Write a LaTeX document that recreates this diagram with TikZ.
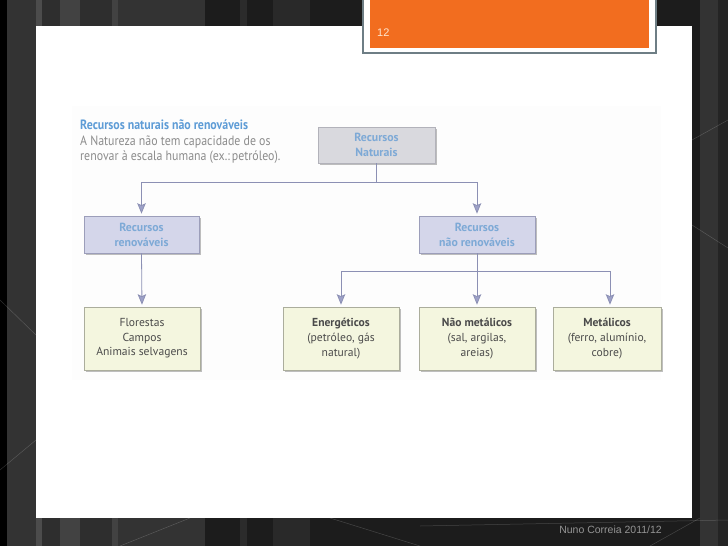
\documentclass[tikz,border=0pt]{standalone}
\usepackage{fontspec}
\setmainfont{PT Sans}
\newfontfamily\libsans{Liberation Sans}
\usetikzlibrary{arrows.meta,shadows}
\definecolor{bgdark}{HTML}{1C1C1C}
\definecolor{orangetab}{HTML}{F26D1F}
\definecolor{tabborder}{HTML}{6E7E85}
\definecolor{titleblue}{HTML}{5E9CD6}
\definecolor{boxblue}{HTML}{7DA9D6}
\definecolor{greytext}{HTML}{8C8C8C}
\definecolor{darktext}{HTML}{4A4A4A}
\definecolor{natfill}{HTML}{D9D9DE}
\definecolor{natdraw}{HTML}{B2B2BA}
\definecolor{lavfill}{HTML}{D4D6EA}
\definecolor{lavdraw}{HTML}{9C9EBA}
\definecolor{yelfill}{HTML}{F4F6DF}
\definecolor{yeldraw}{HTML}{ABAD9C}
\definecolor{linec}{HTML}{8C90B4}
\definecolor{tipc}{HTML}{9DA1C8}
\begin{document}
\begin{tikzpicture}[x=1pt,y=-1pt,
  shad/.style={drop shadow={shadow xshift=1.5pt,shadow yshift=-2pt,opacity=0.25,fill=black}},
  natbox/.style={rectangle,draw=natdraw,fill=natfill,line width=0.6pt,shad,align=center,
     font=\fontsize{11.8}{15}\selectfont\bfseries,text=boxblue,inner sep=0pt},
  lavbox/.style={rectangle,draw=lavdraw,fill=lavfill,line width=0.6pt,shad,align=center,
     font=\fontsize{11.8}{15}\selectfont\bfseries,text=boxblue,inner sep=0pt},
  yelbox/.style={rectangle,draw=yeldraw,fill=yelfill,line width=0.6pt,shad,align=center,
     font=\fontsize{11.6}{14.6}\selectfont,text=darktext,inner sep=0pt,
     minimum width=116pt,minimum height=63pt},
  conn/.style={draw=linec,line width=0.8pt},
  arr/.style={conn,-{Stealth[length=10.5pt,width=8.5pt,inset=2pt,fill=tipc,color=linec]},shorten >=2pt}
]
\useasboundingbox (0,0) rectangle (728,546);
% dark background with stripes
\fill[bgdark] (0,0) rectangle (728,546);
\fill[black] (0,0) rectangle (7,546);
\fill[black!80] (7,0) rectangle (25,546);
\fill[black!80!white] (25,0) rectangle (36,546);
\fill[black!70!white] (36,0) rectangle (42,546);
\fill[black!82!white] (42,0) rectangle (60,546);
\fill[black!74!white] (60,0) rectangle (80,546);
\fill[black!82!white] (80,0) rectangle (112,546);
\fill[black!74!white] (112,0) rectangle (118,546);
\fill[black!80!white] (118,0) rectangle (205,546);
\fill[black!83!white] (240,0) rectangle (247,546);
\fill[black!84!white] (273,0) rectangle (310,546);
\fill[black!80!white] (700,0) rectangle (718,546);
\fill[black!86!white] (718,0) rectangle (728,546);
% faint diagonal lines
\begin{scope}[draw=white,opacity=0.18,line width=0.5pt]
\draw (0,300) -- (36,335);
\draw (0,470) -- (36,440);
\draw (692,140) -- (728,120);
\draw (692,225) -- (728,248);
\draw (120,546) -- (190,518);
\draw (330,518) -- (420,546);
\draw (420,526) -- (728,520);
\draw (650,546) -- (700,518);
\end{scope}
% white slide
\fill[white] (36,26) rectangle (692,518);
% scanned area
\fill[black!0.6] (72,106) rectangle (661,380);
% orange tab
\fill[tabborder] (362,-1) rectangle (657,54);
\fill[white] (364,-1) rectangle (655,52);
\fill[orangetab] (370,-1) rectangle (649,48);
\node[anchor=west,text={rgb,255:red,255;green,228;blue,205},font=\libsans\fontsize{11}{12}\selectfont,inner sep=0pt] (num) at (377,33) {12};
% footer
\node[anchor=east,text=black!42,font=\libsans\fontsize{10.5}{12}\selectfont,inner sep=0pt] (foot) at (662,530) {Nuno Correia 2011/12};
% top-left text
\node[anchor=north west,inner sep=0pt,align=left,font=\fontsize{13.5}{15.5}\selectfont] (intro) at (80,120) {%
  \scalebox{0.88}[1]{\bfseries\color{titleblue}Recursos naturais não renováveis}\\
  \scalebox{0.88}[1]{\color{greytext}A Natureza não tem capacidade de os}\\
  \scalebox{0.88}[1]{\color{greytext}renovar à escala humana (ex.:\,petróleo).}};
% boxes
\node[natbox,minimum width=117pt,minimum height=36pt] (nat) at (376.5,145) {Recursos\\Naturais};
\node[lavbox,minimum width=115pt,minimum height=37pt] (ren) at (141.5,234.5) {Recursos\\renováveis};
\node[lavbox,minimum width=116pt,minimum height=37pt] (nren) at (477,234.5) {Recursos\\não renováveis};
\node[yelbox] (flo) at (142,338.5) {Florestas\\Campos\\Animais selvagens};
\node[yelbox] (ene) at (341,338.5) {\textbf{Energéticos}\\(petróleo, gás\\natural)};
\node[yelbox] (nmet) at (477,338.5) {\textbf{Não metálicos}\\(sal, argilas,\\areias)};
\node[yelbox,minimum width=108pt] (met) at (607,338.5) {\textbf{Metálicos}\\(ferro, alumínio,\\cobre)};
% connectors
\draw[conn] (nat.south) -- ++(0,19) coordinate (j1);
\draw[arr] (j1) -| (ren.north);
\draw[arr] (j1) -| (nren.north);
\draw[arr] (ren.south) -- (flo.north);
\draw[conn] (nren.south) -- ++(0,18) coordinate (j2);
\draw[arr] (j2) -| (ene.north);
\draw[arr] (j2) -- (nmet.north);
\draw[arr] (j2) -| ([xshift=3pt]met.north);
\end{tikzpicture}
\end{document}
